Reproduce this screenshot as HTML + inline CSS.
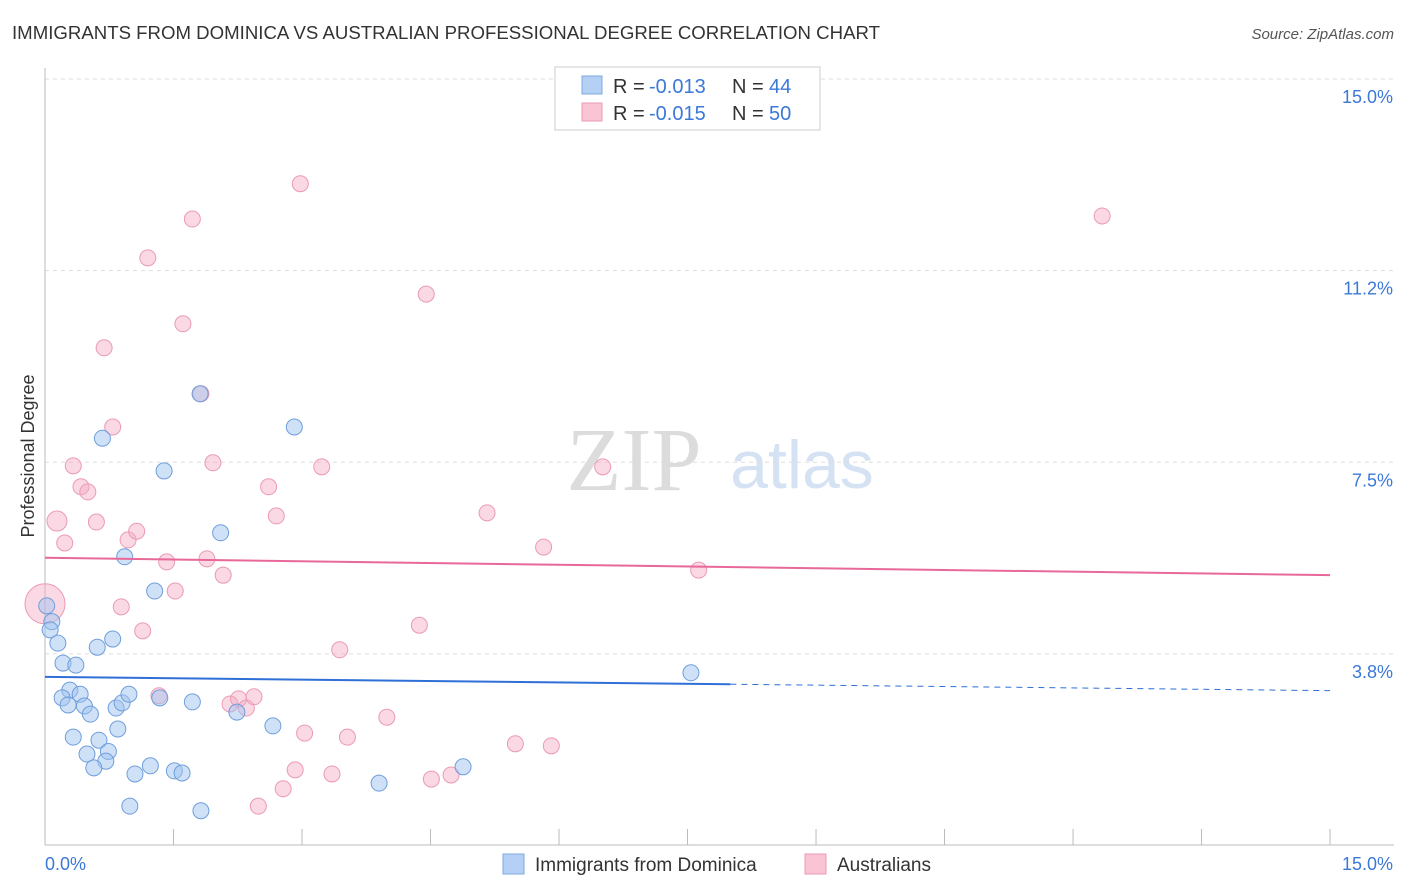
<!DOCTYPE html>
<html><head><meta charset="utf-8"><style>
body{margin:0;background:#fff;font-family:"Liberation Sans",sans-serif;}
svg{display:block}
</style></head><body>
<svg width="1406" height="892" xmlns="http://www.w3.org/2000/svg">
<text x="12" y="39" font-size="18" fill="#333" textLength="868" lengthAdjust="spacingAndGlyphs">IMMIGRANTS FROM DOMINICA VS AUSTRALIAN PROFESSIONAL DEGREE CORRELATION CHART</text>
<text x="1394" y="39" font-size="15" fill="#555" font-style="italic" text-anchor="end">Source: ZipAtlas.com</text>
<g>
<text x="634" y="490" font-size="90" fill="#dcdcdc" font-family="Liberation Serif,serif" text-anchor="middle">ZIP</text>
<text x="802" y="488" font-size="68" fill="#d4e2f4" text-anchor="middle">atlas</text>
</g>
<g id="grid"></g>
<g id="axes"></g>
<text x="34" y="456" font-size="18" fill="#333" text-anchor="middle" transform="rotate(-90 34 456)">Professional Degree</text>
<g id="marks"></g>
<g>
<rect x="555" y="67" width="265" height="63" fill="#fff" stroke="#ccc"/>
<rect x="582" y="76" width="20" height="18" fill="#b4d0f4" stroke="#7fa9e0"/>
<g font-size="20">
<text x="613" y="93" fill="#333">R =</text><text x="649" y="93" fill="#3b78d8">-0.013</text>
<text x="732" y="93" fill="#333">N =</text><text x="769" y="93" fill="#3b78d8">44</text>
</g>
<rect x="582" y="103" width="20" height="18" fill="#f9c4d3" stroke="#eb9ab4"/>
<g font-size="20">
<text x="613" y="120" fill="#333">R =</text><text x="649" y="120" fill="#3b78d8">-0.015</text>
<text x="732" y="120" fill="#333">N =</text><text x="769" y="120" fill="#3b78d8">50</text>
</g>
</g>
<g>
<rect x="503" y="854" width="21" height="20" fill="#b4d0f4" stroke="#7fa9e0"/>
<text x="535" y="871" font-size="19" fill="#333">Immigrants from Dominica</text>
<rect x="805" y="854" width="21" height="20" fill="#f9c4d3" stroke="#eb9ab4"/>
<text x="837" y="871" font-size="19" fill="#333">Australians</text>
</g>
</svg>
<script>
const yTicks=[15.0,11.25,7.5,3.75];
const yTickLabels=["15.0%","11.2%","7.5%","3.8%"];
const xTickCount=10;
const xLabels=["0.0%","15.0%"];
const blueX=[0.02,0.08,0.06,0.15,0.21,0.36,0.29,0.41,0.20,0.27,0.46,0.53,0.33,0.63,0.74,0.49,0.71,0.57,0.85,0.83,0.90,0.98,0.61,0.79,0.67,0.93,1.28,1.39,1.34,1.72,1.81,2.05,2.24,2.66,2.91,1.05,1.23,0.99,1.51,1.60,1.82,3.90,4.88,7.54];
const blueY=[4.69,4.38,4.22,3.96,3.57,3.53,3.04,2.96,2.89,2.75,2.73,2.57,2.12,2.06,1.84,1.79,1.65,1.52,2.28,2.69,2.79,2.96,3.88,4.04,7.97,5.65,4.98,7.33,2.89,2.81,8.84,6.12,2.61,2.34,8.19,1.40,1.56,0.77,1.46,1.42,0.68,1.22,1.54,3.38];
const pinkX=[0,0.14,0.23,0.33,0.42,0.50,0.60,0.69,0.79,0.89,0.97,1.07,1.14,1.20,1.42,1.52,1.61,1.72,1.82,1.89,1.96,2.08,1.33,2.16,2.26,2.35,2.44,2.49,2.61,2.70,2.78,2.92,2.98,3.03,3.23,3.35,3.44,3.53,3.99,4.37,4.45,4.51,4.74,5.16,5.49,5.82,5.91,6.51,7.63,12.34];
const pinkY=[4.73,6.35,5.92,7.43,7.02,6.92,6.33,9.74,8.19,4.67,5.98,6.15,4.20,11.50,5.55,4.98,10.21,12.26,8.84,5.61,7.49,5.29,2.93,2.77,2.87,2.69,2.91,0.77,7.02,6.45,1.11,1.48,12.95,2.20,7.41,1.40,3.83,2.12,2.51,4.31,10.79,1.30,1.38,6.51,1.99,5.84,1.95,7.41,5.39,12.32];
const pinkR=[20,10];
const blueTrend=[3.30,3.03];
const pinkTrend=[5.63,5.29];
const blueSolidEnd=8.0;

const X=v=>45+v*85.67;
const Y=v=>845.5-v*51.1;
const NS="http://www.w3.org/2000/svg";
function mk(tag,attrs,parent){const e=document.createElementNS(NS,tag);for(const k in attrs)e.setAttribute(k,attrs[k]);parent.appendChild(e);return e;}
const grid=document.getElementById('grid'),axes=document.getElementById('axes'),marks=document.getElementById('marks');
yTicks.forEach((t,i)=>{
 const l=mk('line',{x1:45,x2:1394,y1:Y(t),y2:Y(t),stroke:'#ddd','stroke-dasharray':'4,4'},grid);
 
 
 const tx=mk('text',{x:1393,y:Y(t)+24,'font-size':18,fill:'#3b78d8','text-anchor':'end'},axes);
 tx.textContent=yTickLabels[i];
 
 
});
const al=mk('line',{x1:45,x2:45,y1:68,y2:845,stroke:'#bbb'},axes);


const bl=mk('line',{x1:45,x2:1394,y1:845,y2:845,stroke:'#bbb'},axes);


for(let i=0;i<=xTickCount;i++){
 const x=X(15*i/xTickCount);
 const t=mk('line',{x1:x,x2:x,y1:829,y2:845,stroke:'#bbb'},axes);
 
 
}
const xl0=mk('text',{x:45,y:870,'font-size':18,fill:'#3b78d8'},axes);xl0.textContent=xLabels[0];


const xl1=mk('text',{x:1393,y:870,'font-size':18,fill:'#3b78d8','text-anchor':'end'},axes);xl1.textContent=xLabels[1];



pinkX.forEach((v,i)=>{
 const r=i<pinkR.length?pinkR[i]:8;
 const c=mk('circle',{cx:X(v),cy:Y(pinkY[i]),r:r,fill:'rgba(245,170,195,0.45)',stroke:'#eb9ab4','stroke-width':1},marks);
 
 
});
blueX.forEach((v,i)=>{
 const c=mk('circle',{cx:X(v),cy:Y(blueY[i]),r:8,fill:'rgba(160,195,240,0.5)',stroke:'#6f9edc','stroke-width':1},marks);
 
 
});
const bt=v=>blueTrend[0]+(blueTrend[1]-blueTrend[0])*v/15;
const b1=mk('line',{x1:X(0),y1:Y(bt(0)),x2:X(blueSolidEnd),y2:Y(bt(blueSolidEnd)),stroke:'#2f6fd6','stroke-width':2},marks);


const b2=mk('line',{x1:X(blueSolidEnd),y1:Y(bt(blueSolidEnd)),x2:X(15),y2:Y(bt(15)),stroke:'#2f6fd6','stroke-width':1,'stroke-dasharray':'6,5'},marks);


const p1=mk('line',{x1:X(0),y1:Y(pinkTrend[0]),x2:X(15),y2:Y(pinkTrend[1]),stroke:'#e8689a','stroke-width':2},marks);


</script>
</body></html>
